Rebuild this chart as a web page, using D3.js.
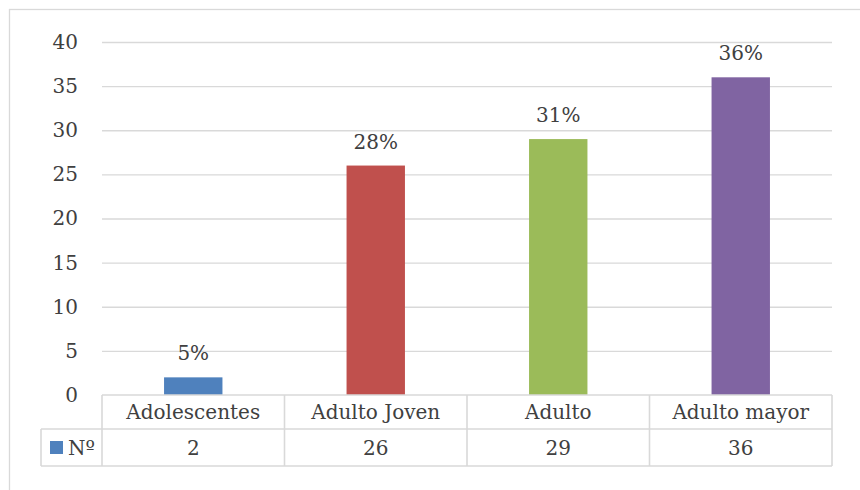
<!DOCTYPE html>
<html><head><meta charset="utf-8">
<script src="https://cdn.jsdelivr.net/npm/d3@7"></script>
<style>
html,body{margin:0;padding:0;background:#fff;}
svg{display:block;font-family:"DejaVu Serif",serif;}
</style></head>
<body><svg id="c" width="860" height="490"></svg>
<script>
const categories = ["Adolescentes", "Adulto Joven", "Adulto", "Adulto mayor"];
const values = [2, 26, 29, 36];
const pctLabels = ["5%", "28%", "31%", "36%"];
const colors = ["#4F81BD", "#C0504D", "#9BBB59", "#8064A2"];
const yTicks = [0, 5, 10, 15, 20, 25, 30, 35, 40];
const seriesName = "Nº";

(function () {
const svg = d3.select("#c");
const txt = "#404040", grid = "#d9d9d9";
const pLeft = 102, pRight = 832, pTop = 42, pBottom = 395;
const row1 = 429, row2 = 466, legendLeft = 41;

// outer chart border
svg.append("rect").attr("x", 9.5).attr("y", 9.5).attr("width", 900).attr("height", 600)
  .attr("fill", "none").attr("stroke", grid).attr("stroke-width", 1.3);

const x = d3.scaleBand().domain(categories).range([pLeft, pRight]).paddingInner(0.68).paddingOuter(0.34);
const xc = d3.scaleBand().domain(categories).range([pLeft, pRight]);
const y = d3.scaleLinear().domain([0, 40]).range([pBottom, pTop]);

// gridlines + y labels via axis
const yAxis = d3.axisLeft(y).tickValues(yTicks).tickSize(-(pRight - pLeft)).tickPadding(24);
const gy = svg.append("g").attr("transform", `translate(${pLeft},0)`).call(yAxis);
gy.select(".domain").remove();
gy.selectAll(".tick line").attr("stroke", grid).attr("stroke-width", 1.3);
gy.selectAll(".tick text").attr("fill", txt).style("font-size", "20px").style("font-family", "DejaVu Serif");
gy.selectAll(".tick").filter(d => d === 0).select("line").remove();

// bars
svg.append("g").selectAll("rect").data(values).join("rect")
  .attr("x", (d, i) => x(categories[i])).attr("width", x.bandwidth())
  .attr("y", d => y(d)).attr("height", d => y(0) - y(d))
  .attr("fill", (d, i) => colors[i]);

// percentage labels
svg.append("g").selectAll("text").data(values).join("text")
  .attr("x", (d, i) => xc(categories[i]) + xc.bandwidth() / 2)
  .attr("y", d => y(d) - 17)
  .attr("text-anchor", "middle").attr("fill", txt).style("font-size", "20px")
  .text((d, i) => pctLabels[i]);

// data table
const tg = svg.append("g").attr("stroke", grid).attr("stroke-width", 1.6).attr("fill", "none");
tg.append("line").attr("x1", pLeft).attr("x2", pRight).attr("y1", pBottom).attr("y2", pBottom);
tg.append("line").attr("x1", legendLeft).attr("x2", pRight).attr("y1", row1).attr("y2", row1);
tg.append("line").attr("x1", legendLeft).attr("x2", pRight).attr("y1", row2).attr("y2", row2);
tg.append("line").attr("x1", legendLeft).attr("x2", legendLeft).attr("y1", row1).attr("y2", row2);
const bounds = categories.map(c => xc(c)).concat([pRight]);
tg.selectAll("line.v").data(bounds).join("line").attr("class", "v")
  .attr("x1", d => d).attr("x2", d => d).attr("y1", pBottom).attr("y2", row2);

svg.append("g").selectAll("text").data(categories).join("text")
  .attr("x", d => xc(d) + xc.bandwidth() / 2).attr("y", (pBottom + row1) / 2 + 7)
  .attr("text-anchor", "middle").attr("fill", txt).style("font-size", "20px").text(d => d);
svg.append("g").selectAll("text").data(values).join("text")
  .attr("x", (d, i) => xc(categories[i]) + xc.bandwidth() / 2).attr("y", (row1 + row2) / 2 + 7)
  .attr("text-anchor", "middle").attr("fill", txt).style("font-size", "20px").text(d => d);

// legend key
svg.append("rect").attr("x", 50).attr("y", 441).attr("width", 13).attr("height", 13).attr("fill", colors[0]);
svg.append("text").attr("x", 68).attr("y", (row1 + row2) / 2 + 7).attr("fill", txt)
  .style("font-size", "20px").text(seriesName);
})();
</script></body></html>
